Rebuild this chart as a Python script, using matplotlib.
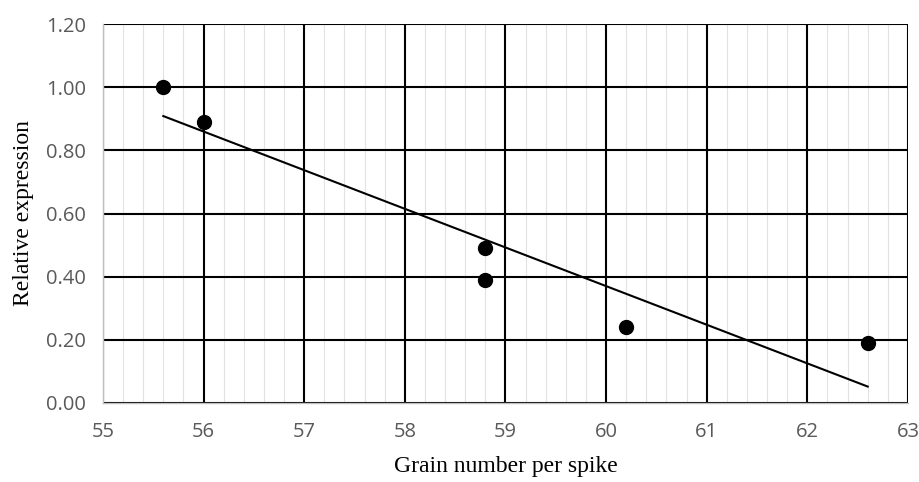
import numpy as np
import matplotlib.pyplot as plt
from matplotlib.ticker import MultipleLocator

# values
grain_number = [55.6, 56.0, 58.8, 58.8, 60.2, 62.6]
relative_expression = [1.00, 0.89, 0.49, 0.39, 0.24, 0.19]

x_ticks = [55, 56, 57, 58, 59, 60, 61, 62, 63]
y_ticks = [0.0, 0.2, 0.4, 0.6, 0.8, 1.0, 1.2]

fig = plt.figure(figsize=(9.19, 4.82), dpi=100)
ax = fig.add_axes([0.112, 0.164, 0.876, 0.786])

# linear trendline
slope, intercept = np.polyfit(grain_number, relative_expression, 1)
xs = np.array([min(grain_number), max(grain_number)])
ax.plot(xs, slope * xs + intercept, color='black', lw=1.5, zorder=3)

ax.plot(grain_number, relative_expression, 'o', color='black', ms=10, zorder=4)

ax.set_xlim(55, 63)
ax.set_ylim(0, 1.2)
ax.set_xticks(x_ticks)
ax.set_yticks(y_ticks)
ax.set_yticklabels([f"{v:.2f}" for v in y_ticks])
ax.xaxis.set_minor_locator(MultipleLocator(0.2))

ax.grid(which='major', color='black', lw=1.5, zorder=1)
ax.grid(which='minor', axis='x', color='#e2e2e2', lw=0.8, zorder=0)
ax.tick_params(which='both', length=0, labelsize=14.5, labelcolor='#595959')
ax.tick_params(axis='y', pad=12)
ax.tick_params(axis='x', pad=14)
for lbl in ax.get_xticklabels() + ax.get_yticklabels():
    lbl.set_family('Open Sans')

for side in ['left', 'bottom']:
    ax.spines[side].set_color('#bfbfbf')
    ax.spines[side].set_linewidth(1)
for side in ['top', 'right']:
    ax.spines[side].set_visible(False)

ax.set_xlabel('Grain number per spike', family='Liberation Serif', fontsize=17, labelpad=10)
ax.set_ylabel('Relative expression', family='Liberation Serif', fontsize=17, labelpad=9)

fig.savefig('out.png', dpi=100)
